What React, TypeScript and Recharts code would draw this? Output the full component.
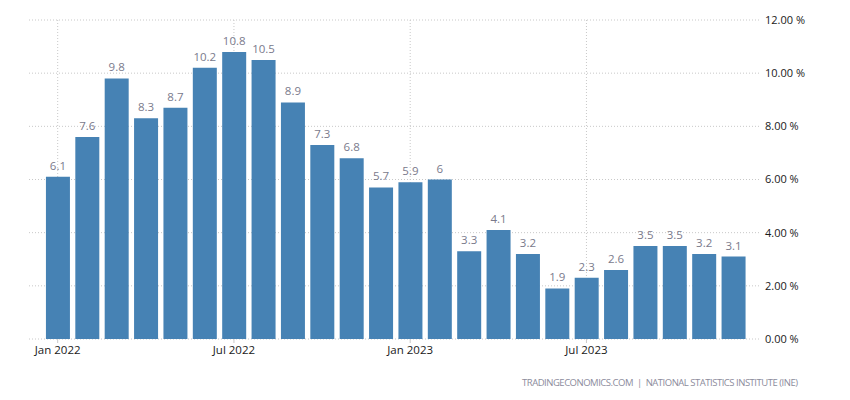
import React from "react";
import { BarChart, Bar, XAxis, YAxis, CartesianGrid, LabelList } from "recharts";

const months = [
  "Jan 2022", "Feb 2022", "Mar 2022", "Apr 2022", "May 2022", "Jun 2022",
  "Jul 2022", "Aug 2022", "Sep 2022", "Oct 2022", "Nov 2022", "Dec 2022",
  "Jan 2023", "Feb 2023", "Mar 2023", "Apr 2023", "May 2023", "Jun 2023",
  "Jul 2023", "Aug 2023", "Sep 2023", "Oct 2023", "Nov 2023", "Dec 2023",
];
const values = [6.1, 7.6, 9.8, 8.3, 8.7, 10.2, 10.8, 10.5, 8.9, 7.3, 6.8, 5.7, 5.9, 6, 3.3, 4.1, 3.2, 1.9, 2.3, 2.6, 3.5, 3.5, 3.2, 3.1];
const xTickMonths = ["Jan 2022", "Jul 2022", "Jan 2023", "Jul 2023"];
const yTicks = [0, 2, 4, 6, 8, 10, 12];
const sourceText = "TRADINGECONOMICS.COM\u00a0\u00a0|\u00a0\u00a0NATIONAL STATISTICS INSTITUTE (INE)";

const data = months.map((m, i) => ({ month: m, value: values[i] }));

const FONT = "'Open Sans', 'DejaVu Sans', sans-serif";
const PAD_L = 14;
const PAD_R = 13;

const verticalGen = (props: any) => {
  const s = props?.xAxis?.scale;
  if (typeof s === "function") {
    try {
      const bw = typeof s.bandwidth === "function" ? s.bandwidth() : 0;
      const r = xTickMonths.map((m) => s(m) + bw / 2).filter((v) => Number.isFinite(v));
      if (r.length) return r;
    } catch (e) {
      /* fall through */
    }
  }
  const off = props?.offset;
  if (!off) return [];
  const band = (off.width - PAD_L - PAD_R) / months.length;
  return xTickMonths.map((m) => off.left + PAD_L + band * (months.indexOf(m) + 0.5));
};

export default function App() {
  return (
    <div style={{ position: "absolute", left: 0, top: 0, width: 850, height: 400, background: "#fff" }}>
      <BarChart
        width={850}
        height={400}
        data={data}
        margin={{ top: 20, right: 29, bottom: 31, left: 29 }}
      >
        <CartesianGrid stroke="#c8c8c8" strokeDasharray="1 2" verticalCoordinatesGenerator={verticalGen} />
        <XAxis
          dataKey="month"
          interval={5}
          padding={{ left: PAD_L, right: PAD_R }}
          axisLine={false}
          tickLine={{ stroke: "#c8c8c8" }}
          tickSize={4}
          tickMargin={3}
          height={30}
          tick={{ fill: "#1a1a1a", fontSize: 11.5, fontFamily: FONT }}
        />
        <YAxis
          orientation="right"
          domain={[0, 12]}
          ticks={yTicks}
          width={60}
          axisLine={false}
          tickLine={false}
          tickSize={0}
          tickMargin={4}
          tickFormatter={(v: number) => v.toFixed(2) + " %"}
          tick={{ fill: "#1a1a1a", fontSize: 11, fontFamily: FONT, textAnchor: "start" }}
        />
        <Bar dataKey="value" fill="#4682B4" barCategoryGap={4} isAnimationActive={false}>
          <LabelList
            dataKey="value"
            position="top"
            offset={7}
            fill="#7a7a8c"
            fontSize={11.5}
            fontFamily={FONT}
          />
        </Bar>
      </BarChart>
      <svg width={850} height={400} style={{ position: "absolute", left: 0, top: 0, pointerEvents: "none" }}>
        <text
          x={798}
          y={386}
          textAnchor="end"
          fill="#8c8c9c"
          fontSize={9.5}
          fontFamily={FONT}
          textLength={276}
          lengthAdjust="spacing"
        >
          {sourceText}
        </text>
      </svg>
    </div>
  );
}
